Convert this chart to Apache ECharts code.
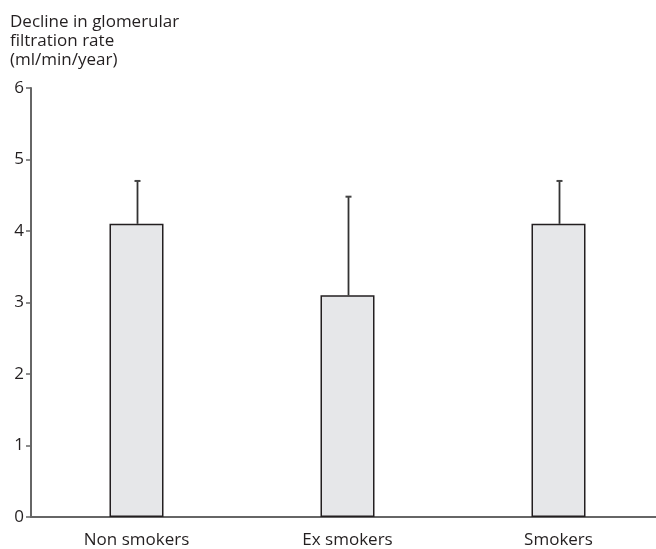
<!DOCTYPE html>
<html>
<head>
<meta charset="utf-8">
<script src="https://cdn.jsdelivr.net/npm/echarts@6/dist/echarts.min.js"></script>
<style>
html,body{margin:0;padding:0;background:#fff;overflow:hidden;width:656px;height:549px;}
#chart{width:664px;height:549px;}
</style>
</head>
<body>
<div id="chart"></div>
<script>
var categories = ['Non smokers', 'Ex smokers', 'Smokers'];
var means = [4.1, 3.1, 4.1];
var upperErrors = [4.7, 4.48, 4.7];
var yTicks = [0, 1, 2, 3, 4, 5, 6];
var yTitleLines = ['Decline in glomerular', 'filtration rate', '(ml/min/year)'];

var FONT = '"Open Sans", "Noto Sans", sans-serif';
var chart = echarts.init(document.getElementById('chart'), null, {renderer: 'canvas'});

var errData = categories.map(function (c, i) { return [i, means[i], upperErrors[i]]; });

chart.setOption({
  animation: false,
  backgroundColor: '#ffffff',
  textStyle: {fontFamily: FONT},
  grid: {left: 31, right: 0, top: 88, bottom: 32, containLabel: false},
  graphic: [{
    type: 'text',
    left: 10,
    top: 13,
    style: {
      text: yTitleLines.join('\n'),
      font: '17px ' + FONT,
      fill: '#231f20',
      lineHeight: 18.7
    }
  }],
  xAxis: {
    type: 'category',
    data: categories,
    boundaryGap: true,
    axisLine: {lineStyle: {color: '#666666', width: 2}},
    axisTick: {show: false},
    axisLabel: {color: '#231f20', fontSize: 17, margin: 15, fontFamily: FONT}
  },
  yAxis: {
    type: 'value',
    min: yTicks[0],
    max: yTicks[yTicks.length - 1],
    interval: 1,
    axisLine: {show: true, lineStyle: {color: '#666666', width: 2}},
    axisTick: {show: true, length: 5, lineStyle: {color: '#666666', width: 1.5}},
    axisLabel: {color: '#231f20', fontSize: 17, margin: 7, fontFamily: FONT},
    splitLine: {show: false}
  },
  series: [{
    type: 'bar',
    data: means,
    barWidth: 54,
    itemStyle: {color: '#e6e7e9', borderColor: '#231f20', borderWidth: 1.5},
    z: 2
  }, {
    type: 'custom',
    data: errData,
    z: 3,
    renderItem: function (params, api) {
      var x = api.value(0);
      var top = api.coord([x, api.value(2)]);
      var bot = api.coord([x, api.value(1)]);
      var cx = Math.round(top[0]) + 0.5;
      return {
        type: 'group',
        children: [{
          type: 'line',
          shape: {x1: cx, y1: top[1], x2: cx, y2: bot[1]},
          style: {stroke: '#333333', lineWidth: 1.8}
        }, {
          type: 'line',
          shape: {x1: cx - 3, y1: top[1], x2: cx + 3, y2: top[1]},
          style: {stroke: '#444444', lineWidth: 2}
        }]
      };
    }
  }]
});
</script>
</body>
</html>
